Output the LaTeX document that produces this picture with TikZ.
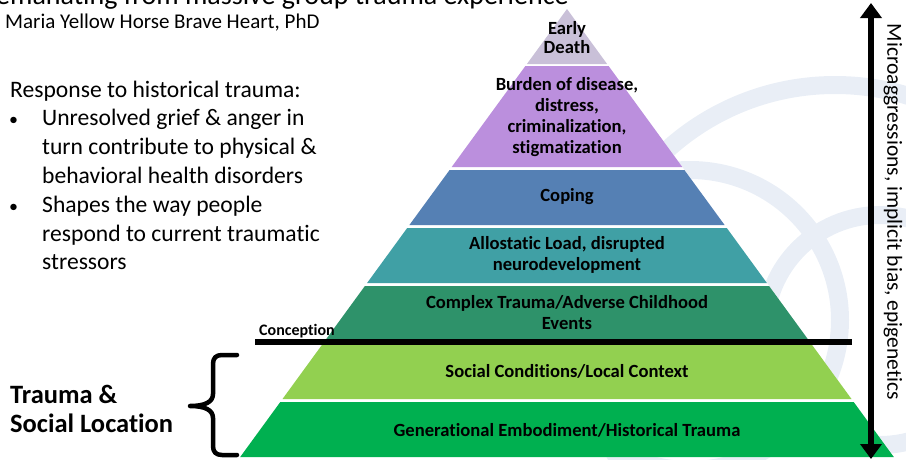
\documentclass[tikz,border=0pt]{standalone}
\usepackage{fontspec}
\setmainfont{Carlito}[Ligatures=NoCommon]
\usetikzlibrary{arrows.meta}

\definecolor{wm}{RGB}{233,238,246}
\definecolor{cEarly}{RGB}{201,192,216}
\definecolor{cBurden}{RGB}{187,143,221}
\definecolor{cCoping}{RGB}{85,128,180}
\definecolor{cAllo}{RGB}{64,160,165}
\definecolor{cComplex}{RGB}{46,146,106}
\definecolor{cSocial}{RGB}{146,208,80}
\definecolor{cGen}{RGB}{0,176,80}

\begin{document}
\begin{tikzpicture}[x=1pt,y=-1pt,
  lbl/.style={font=\fontsize{18.6}{21}\selectfont\bfseries, align=center, inner sep=0pt},
  bodytext/.style={font=\fontsize{23.6}{27}\selectfont, anchor=base west, inner sep=0pt},
  bulletmark/.style={font=\fontsize{18}{20}\selectfont, anchor=base west, inner sep=0pt},
  heavy/.style={line width=5.5pt},
  bracepath/.style={line width=4.5pt, line cap=round, line join=round}]
\useasboundingbox (0,0) rectangle (906,459);
\clip (0,0) rectangle (906,459);

% faint background rings
\begin{scope}[draw=wm, line width=18pt]
  \draw (835,335) circle[radius=250];
  \draw (690,320) circle[radius=150];
  \draw (880,330) circle[radius=115];
\end{scope}

% heading (runs off the top edge)
\node[font=\fontsize{28}{30}\selectfont, anchor=base west, inner sep=0pt] (title) at (-4,4) {emanating from massive group trauma experience};
\node[font=\fontsize{21}{24}\selectfont, anchor=base west, inner sep=0pt] (author) at (5,28) {Maria Yellow Horse Brave Heart, PhD};

% response text
\node[bodytext] (resp) at (10,97) {Response to historical trauma:};
\node[bulletmark] (b1) at (9,125) {•};
\node[bodytext] (l1) at (42,125) {Unresolved grief \& anger in};
\node[bodytext] (l2) at (42,154) {turn contribute to physical \&};
\node[bodytext] (l3) at (42,183) {behavioral health disorders};
\node[bulletmark] (b2) at (9,212) {•};
\node[bodytext] (l4) at (42,212) {Shapes the way people};
\node[bodytext] (l5) at (42,241) {respond to current traumatic};
\node[bodytext] (l6) at (42,269) {stressors};

% pyramid
\fill[white] (567,9) -- (894,457) -- (240,457) -- cycle;
\fill[cEarly]   (567,9) -- (607.1,64) -- (526.9,64) -- cycle;
\fill[cBurden]  (525.4,66) -- (608.6,66) -- (682.3,167) -- (451.7,167) -- cycle;
\fill[cCoping]  (449.6,170) -- (684.4,170) -- (724.6,225) -- (409.4,225) -- cycle;
\fill[cAllo]    (407.2,228) -- (726.8,228) -- (766.9,283) -- (367.1,283) -- cycle;
\fill[cComplex] (364.9,286) -- (769.1,286) -- (809.2,341) -- (324.8,341) -- cycle;
\fill[cSocial]  (322.6,344) -- (811.4,344) -- (851.5,399) -- (282.5,399) -- cycle;
\fill[cGen]     (280.3,402) -- (853.7,402) -- (893.8,457) -- (240.2,457) -- cycle;

\node[lbl, font=\fontsize{18.6}{19}\selectfont\bfseries] (early) at (567,38) {Early\\Death};
\node[lbl] (burden) at (567,117) {Burden of disease,\\distress,\\criminalization,\\stigmatization};
\node[lbl] (coping) at (567,197) {Coping};
\node[lbl] (allo) at (567,255) {Allostatic Load, disrupted\\neurodevelopment};
\node[lbl] (complex) at (567,313) {Complex Trauma/Adverse Childhood\\Events};
\node[lbl] (social) at (567,371) {Social Conditions/Local Context};
\node[lbl] (gen) at (567,430) {Generational Embodiment/Historical Trauma};

% conception divider
\coordinate (cL) at (255,342);
\coordinate (cR) at (852,342);
\draw[heavy] (cL) -- (cR);
\node[font=\fontsize{16}{18}\selectfont\bfseries, anchor=base west, inner sep=0pt] (concep) at (259,335) {Conception};

% vertical double arrow with caption
\coordinate (arrTop) at (871,3);
\coordinate (arrBot) at (871,459);
\draw[line width=6pt, {Triangle[width=21pt,length=15pt]}-{Triangle[width=21pt,length=15pt]}] (arrTop) -- (arrBot);
\node[rotate=-90, font=\fontsize{21.5}{24}\selectfont, inner sep=0pt] (side) at (893,212) {Microaggressions, implicit bias, epigenetics};

% brace and its caption
\draw[bracepath] (237,355) -- (222,355) .. controls (216,355) and (213,358) .. (213,364) -- (213,394) .. controls (213,402) and (205,406) .. (190,406) .. controls (205,406) and (213,410) .. (213,418) -- (213,446) .. controls (213,452) and (216,455) .. (222,455) -- (237,455);
\node[font=\fontsize{26.5}{32}\selectfont\bfseries, anchor=base west, inner sep=0pt] (tr1) at (10,403) {Trauma \&};
\node[font=\fontsize{26.5}{32}\selectfont\bfseries, anchor=base west, inner sep=0pt] (tr2) at (10,432) {Social Location};
\end{tikzpicture}
\end{document}
